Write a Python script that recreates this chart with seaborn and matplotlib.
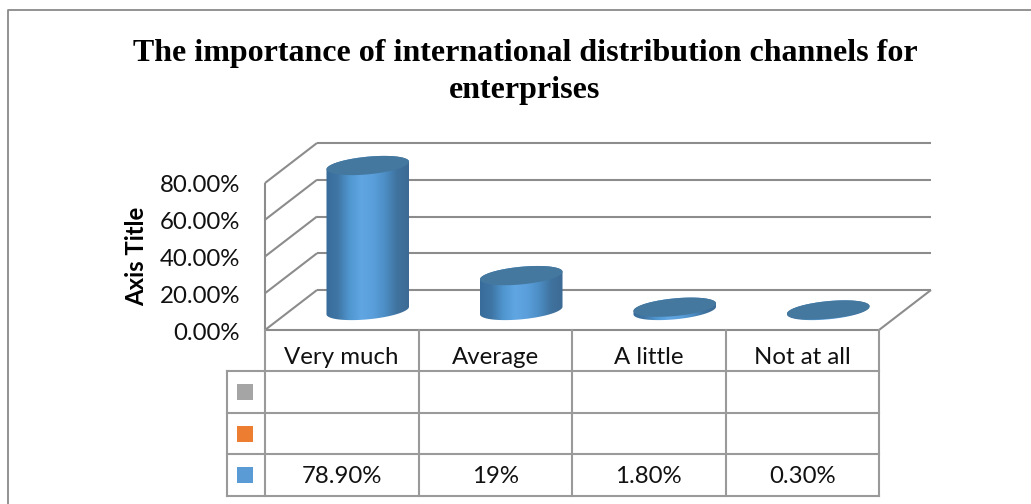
# import libraries
import numpy as np
import matplotlib.pyplot as plt
import seaborn as sns
from matplotlib.colors import LinearSegmentedColormap
from matplotlib.patches import PathPatch
from matplotlib.path import Path
from matplotlib.transforms import Affine2D, IdentityTransform

title = "The importance of international distribution channels for\nenterprises"
categories = ["Very much", "Average", "A little", "Not at all"]
values = [78.9, 19, 1.8, 0.3]
table_values = ["78.90%", "19%", "1.80%", "0.30%"]
y_ticks = [0, 20, 40, 60, 80]
swatch_colors = ["#a5a5a5", "#ed7d31", "#5b9bd5"]

W, H = 1031, 504
grid_color = "#8c8c8c"
table_color = "#9a9a9a"
top_color = "#44789f"
text_font = "Lato"

sns.set_theme(style="white")
plt.rcParams["font.family"] = text_font

fig = plt.figure(figsize=(W / 100, H / 100), dpi=100)
# front plane of the 3d box: 265..879 px across, 330..183 px down
ax = fig.add_axes([265 / W, 1 - 330 / H, 614 / W, 147 / H])
ax.set_facecolor("none")

sns.barplot(x=categories, y=values, width=0.54, color=swatch_colors[2], ax=ax)
ax.set_xlim(-0.5, 3.5)
ax.set_ylim(0, 80)
sns.despine(ax=ax, left=True, bottom=True)
ax.set_xticks([])
ax.set_xlabel("")
ax.set_ylabel("")
ax.set_yticks(y_ticks)
ax.set_yticklabels([f"{t:.2f}%" for t in y_ticks], fontsize=17.3, color="#111111")
ax.tick_params(axis="y", length=0, pad=18)
for lab in ax.get_yticklabels():
    lab.set_clip_on(False)
    lab.set_transform(lab.get_transform() + Affine2D().translate(0, -1))

# back wall sits 52 px right and 40 px up from the front plane
back = Affine2D().translate(52, 40)
back_tr = ax.transData + back
line_kw = dict(color=grid_color, lw=1.5, clip_on=False, solid_capstyle="butt")
for t in y_ticks:
    ax.plot([-0.5, 3.5], [t, t], transform=back_tr, **line_kw)
    p0 = ax.transData.transform((-0.5, t))
    ax.plot([p0[0], p0[0] + 52], [p0[1], p0[1] + 40],
            transform=IdentityTransform(), **line_kw)
p1 = ax.transData.transform((3.5, 0))
ax.plot([p1[0], p1[0] + 52], [p1[1], p1[1] + 40],
        transform=IdentityTransform(), **line_kw)
ax.plot([-0.5, 3.5], [0, 0], **line_kw)
ax.plot([-0.5, -0.5], [0, 80], **line_kw)

# cylinders: built from the seaborn bars, moved to the middle of the depth
cmap = LinearSegmentedColormap.from_list(
    "cyl", ["#386c9a", "#3f76a6", "#5097d0", "#60a6e3",
            "#5a9fdb", "#4c8dc4", "#40739f", "#3c6a94"])
grad = np.linspace(0, 1, 256).reshape(1, -1)
b_ax = 8.8
tilt = np.radians(5.5)


def arc(cx, cy, a, b, t):
    x = cx + a * np.cos(t) * np.cos(tilt) - b * np.sin(t) * np.sin(tilt)
    y = cy + a * np.cos(t) * np.sin(tilt) + b * np.sin(t) * np.cos(tilt)
    return np.column_stack([x, y])


for bar in list(ax.patches):
    x0, w, h = bar.get_x(), bar.get_width(), bar.get_height()
    bar.set_visible(False)
    left = ax.transData.transform((x0, 0))[0] + 26
    right = ax.transData.transform((x0 + w, 0))[0] + 26
    base = ax.transData.transform((x0, 0))[1] + 19.5
    top = base + (ax.transData.transform((x0, h))[1]
                  - ax.transData.transform((x0, 0))[1])
    cx, a = (left + right) / 2, (right - left) / 2
    t0 = np.arctan2(-b_ax * np.sin(tilt), a * np.cos(tilt))
    lower = arc(cx, base, a, b_ax, np.linspace(t0 + np.pi, t0 + 2 * np.pi, 60))
    upper = arc(cx, top, a, b_ax, np.linspace(t0, t0 + np.pi, 60))
    body = Path(np.vstack([lower, upper, lower[:1]]), closed=True)
    im = ax.imshow(grad, cmap=cmap, aspect="auto", zorder=3,
                   extent=[left, right, base - 15, top + 15],
                   transform=IdentityTransform())
    im.set_clip_box(fig.bbox)
    im.set_clip_path(body, IdentityTransform())
    cap = arc(cx, top, a, b_ax, np.linspace(0, 2 * np.pi, 120))
    ax.add_patch(PathPatch(Path(cap, closed=True), facecolor=top_color, edgecolor="none",
                           transform=IdentityTransform(), zorder=4, clip_on=False))
ax.set_xlim(-0.5, 3.5)
ax.set_ylim(0, 80)

# data table under the plot
row_h = 41.4 / (147 / 80)
n_rows = len(swatch_colors)
tab_kw = dict(color=table_color, lw=1.5, clip_on=False, solid_capstyle="projecting")
label_x = -0.5 - 38 / 153.5
for i in range(len(categories) + 1):
    ax.plot([i - 0.5, i - 0.5], [0, -row_h * (n_rows + 1)], **tab_kw)
ax.plot([label_x, label_x], [-row_h, -row_h * (n_rows + 1)], **tab_kw)
for r in range(1, n_rows + 2):
    ax.plot([label_x, 3.5], [-row_h * r, -row_h * r], **tab_kw)
for i, cat in enumerate(categories):
    ax.text(i, -row_h * 0.66, cat, ha="center", va="center", fontsize=17.3,
            color="#111111", clip_on=False)
    ax.text(i, -row_h * 3.53, table_values[i], ha="center", va="center", fontsize=17.3,
            color="#111111", clip_on=False)
for r, c in enumerate(swatch_colors):
    ax.plot([label_x + 17.5 / 153.5], [-row_h * (r + 1.50)], marker="s", ms=11, mew=0,
            color=c, clip_on=False)

fig.text(137 / W, 1 - 256 / H, "Axis Title", rotation=90, ha="center", va="center",
         fontsize=17.2, fontweight="bold", color="black")
fig.text(525 / W, 1 - 72 / H, title, ha="center", va="center", fontsize=23,
         fontweight="bold", family="Liberation Serif", color="black", linespacing=1.345)

# outer chart border, open on the right and bottom
fig.add_artist(plt.Line2D([8 / W, 8 / W, 1], [0, 1 - 10 / H, 1 - 10 / H],
                          color="#8a8a8a", lw=1.3))

fig.savefig("out.png", dpi=100)
